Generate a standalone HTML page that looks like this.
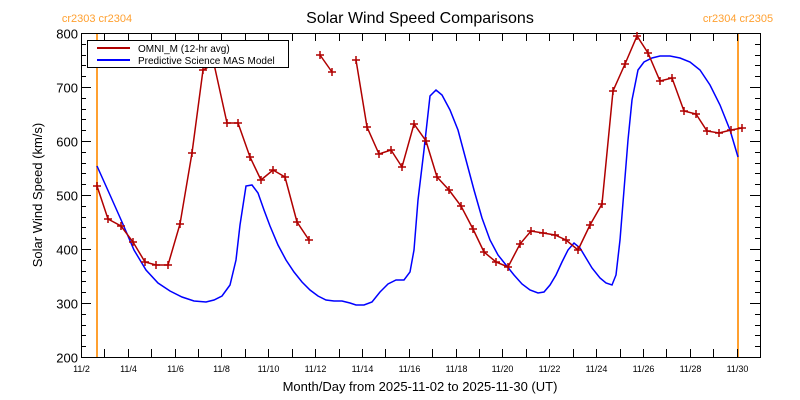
<!DOCTYPE html>
<html><head><meta charset="utf-8"><style>
html,body{margin:0;padding:0;background:#fff;}
svg{display:block;font-family:"Liberation Sans",sans-serif;}
</style></head><body>
<svg id="s" width="800" height="400" xmlns="http://www.w3.org/2000/svg">
<rect width="800" height="400" fill="#fff"/>
<text x="420" y="23" font-size="16" text-anchor="middle" fill="#000">Solar Wind Speed Comparisons</text>
<text x="97" y="22" font-size="11" fill="#ffa030" text-anchor="middle">cr2303 cr2304</text>
<text x="738" y="22" font-size="11" fill="#ffa030" text-anchor="middle">cr2304 cr2305</text>
<text x="420" y="391" font-size="13" text-anchor="middle">Month/Day from 2025-11-02 to 2025-11-30 (UT)</text>
<text transform="translate(42,195) rotate(-90)" font-size="13" text-anchor="middle">Solar Wind Speed (km/s)</text>
<line x1="97" y1="33" x2="97" y2="358" stroke="#ffa030" stroke-width="2"/>
<line x1="738" y1="33" x2="738" y2="358" stroke="#ffa030" stroke-width="2"/>
<g id="ax" stroke="#000" stroke-width="1" fill="none"></g>
<g id="lab" font-size="11" fill="#000"></g>
<polyline id="blue" fill="none" stroke="#0000ff" stroke-width="1.5"/>
<g id="red" stroke="#b00000" fill="none" stroke-width="1.5"></g>
<rect x="87.5" y="40.5" width="201" height="27" fill="#fff" stroke="#000"/>
<line x1="97" y1="48" x2="130" y2="48" stroke="#b00000" stroke-width="2"/>
<line x1="97" y1="60" x2="130" y2="60" stroke="#0000ff" stroke-width="2"/>
<text x="138" y="52" font-size="10">OMNI_M (12-hr avg)</text>
<text x="138" y="64" font-size="10">Predictive Science MAS Model</text>
</svg>
<script>
var ns="http://www.w3.org/2000/svg",ax=document.getElementById('ax'),lab=document.getElementById('lab');
function el(t,a,p){var e=document.createElementNS(ns,t);for(var k in a)e.setAttribute(k,a[k]);p.appendChild(e);return e;}
var L=81,R=760,T=33,B=357;
el('rect',{x:L+.5,y:T+.5,width:R-L,height:B-T},ax);
var dx=(R-L)/29;
for(var d=0;d<=29;d++){var x=Math.round(L+d*dx)+.5;
 el('line',{x1:x,y1:B,x2:x,y2:B-8},ax);el('line',{x1:x,y1:T,x2:x,y2:T+8},ax);
 if(d%2==0&&d<=28){var t=el('text',{x:x,y:B+15,'text-anchor':'middle','font-size':9},lab);t.textContent='11/'+(2+d);}}
for(var v=200;v<=800;v+=20){var y=Math.round(B-(v-200)*(B-T)/600)+.5;var w=(v%100==0)?10:5;
 el('line',{x1:L,y1:y,x2:L+w,y2:y},ax);el('line',{x1:R-w,y1:y,x2:R,y2:y},ax);
 if(v%100==0){var t=el('text',{x:L-3,y:y+5,'text-anchor':'end','font-size':13},lab);t.textContent=v;}}
var blue=[[97,166],[110,195],[122,222],[134,250],[146,270],[158,283],[170,291],[182,297],[194,301],[206,302],[214,300],[222,296],[230,285],[236,260],[240,225],[246,186],[252,185],[258,193],[264,210],[270,226],[278,245],[286,260],[294,272],[302,282],[310,290],[318,296],[326,300],[334,301],[342,301],[350,303],[356,305],[364,305],[372,302],[380,292],[388,284],[396,280],[404,280],[410,272],[414,250],[418,200],[424,150],[430,96],[436,90],[442,95],[450,110],[458,130],[466,160],[474,190],[482,218],[490,240],[498,255],[506,265],[514,275],[522,284],[530,290],[538,293],[544,292],[550,285],[556,275],[562,262],[568,250],[574,243],[580,248],[586,258],[592,268],[600,278],[606,283],[612,285],[616,275],[620,240],[624,190],[628,140],[632,100],[638,70],[644,62],[652,58],[660,56],[670,56],[680,58],[690,62],[700,70],[710,85],[720,105],[730,130],[738,157]];
document.getElementById('blue').setAttribute('points',blue.join(' '));
var segs=[[[97,186],[108,219],[121,226],[133,242],[145,262],[156,265],[168,265],[180,224],[192,153],[203,70],[214,64],[227,123],[238,123],[250,157],[261,180],[273,170],[285,177],[297,222],[309,240]],[[320,55],[332,72]],[[356,60],[367,127],[379,154],[391,150],[402,167],[414,124],[426,141],[437,177],[449,190],[461,206],[473,229],[484,252],[496,262],[508,267],[520,244],[531,231],[543,233],[555,235],[566,240],[578,250],[590,225],[602,204],[613,91],[625,64],[637,36],[648,53],[660,81],[672,78],[684,111],[696,114],[707,131],[719,133],[731,130],[742,128]]];
var rg=document.getElementById('red');
segs.forEach(function(s){el('polyline',{points:s.join(' ')},rg);s.forEach(function(p){
 el('line',{x1:p[0]-4,y1:p[1],x2:p[0]+4,y2:p[1]},rg);el('line',{x1:p[0],y1:p[1]-4,x2:p[0],y2:p[1]+4},rg);});});
</script>
</body></html>
